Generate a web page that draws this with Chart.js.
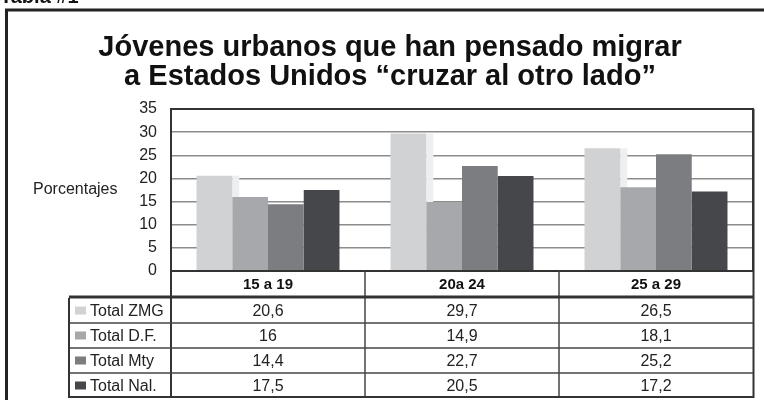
<!DOCTYPE html>
<html>
<head>
<meta charset="utf-8">
<script src="https://cdn.jsdelivr.net/npm/chart.js@4/dist/chart.umd.min.js"></script>
<style>
  html, body { margin: 0; padding: 0; background: #fff; }
  #wrap { width: 764px; height: 400px; }
</style>
</head>
<body>
<div id="wrap"><canvas id="chart" width="764" height="400"></canvas></div>
<script>
// ===== datos =====
const categorias = ['15 a 19', '20a 24', '25 a 29'];
const totalZMG = [20.6, 29.7, 26.5];
const totalDF = [16, 14.9, 18.1];
const totalMty = [14.4, 22.7, 25.2];
const totalNal = [17.5, 20.5, 17.2];
const series = ['Total ZMG', 'Total D.F.', 'Total Mty', 'Total Nal.'];
const colores = ['#d1d2d4', '#a7a8ab', '#7c7d81', '#46474a'];
const tituloLineas = ['Jóvenes urbanos que han pensado migrar', 'a Estados Unidos “cruzar al otro lado”'];

const FONT = '"Liberation Sans", Arial, Helvetica, sans-serif';
const valores = [totalZMG, totalDF, totalMty, totalNal];

function fmt(v) {
  return String(v).replace('.', ',');
}

// ===== plugin: marco, título, sombra y tabla =====
const decoPlugin = {
  id: 'deco',
  beforeDatasetsDraw(chart) {
    // franja clara detrás de la primera serie
    const ctx = chart.ctx;
    const meta = chart.getDatasetMeta(0);
    ctx.save();
    ctx.fillStyle = '#eeeff1';
    meta.data.forEach(bar => {
      const r = bar.x + bar.width / 2;
      ctx.fillRect(r, bar.y, 7, bar.base - bar.y);
    });
    ctx.restore();
  },
  afterDraw(chart) {
    const ctx = chart.ctx;
    const area = chart.chartArea;
    const x = chart.scales.x;
    const catW = (area.right - area.left) / categorias.length;
    const bordes = categorias.map((c, i) => x.getPixelForTick(i) - catW / 2);
    bordes.push(area.right);

    ctx.save();
    // marco exterior
    ctx.strokeStyle = '#222';
    ctx.lineWidth = 3;
    ctx.beginPath();
    ctx.moveTo(6.5, 400);
    ctx.lineTo(6.5, 10);
    ctx.lineTo(764, 10);
    ctx.stroke();

    // "Tabla #1" cortado arriba
    ctx.fillStyle = '#111';
    ctx.font = 'bold 20px ' + FONT;
    ctx.textAlign = 'left';
    ctx.textBaseline = 'alphabetic';
    ctx.fillText('Tabla #1', 0, 3);

    // título
    ctx.font = 'bold 29px ' + FONT;
    ctx.textAlign = 'center';
    ctx.fillText(tituloLineas[0], 390, 56);
    ctx.fillText(tituloLineas[1], 390, 85);

    // etiqueta del eje
    ctx.font = '16px ' + FONT;
    ctx.textAlign = 'left';
    ctx.textBaseline = 'middle';
    ctx.fillStyle = '#222';
    ctx.fillText('Porcentajes', 33, 190);

    // borde del área
    ctx.strokeStyle = '#333';
    ctx.lineWidth = 2;
    ctx.strokeRect(area.left, area.top, area.right - area.left, area.bottom - area.top);

    // fila de categorías
    const filaTop = area.bottom;
    const filaBot = 297;
    ctx.lineWidth = 1.5;
    ctx.strokeStyle = '#444';
    for (let i = 1; i < categorias.length; i++) {
      ctx.beginPath();
      ctx.moveTo(bordes[i], filaTop);
      ctx.lineTo(bordes[i], 398);
      ctx.stroke();
    }
    ctx.lineWidth = 2;
    ctx.strokeStyle = '#333';
    ctx.beginPath();
    ctx.moveTo(area.left, filaTop);
    ctx.lineTo(area.left, 398);
    ctx.moveTo(area.right + 0.5, area.top);
    ctx.lineTo(area.right + 0.5, 398);
    ctx.stroke();

    // tabla de datos
    const tLeft = 69;
    const rowH = 25;
    const tTop = filaBot + 1;
    ctx.lineWidth = 1.5;
    ctx.strokeStyle = '#444';
    for (let r = 1; r < series.length; r++) {
      const y = tTop + r * rowH;
      ctx.beginPath();
      ctx.moveTo(tLeft, y);
      ctx.lineTo(area.right, y);
      ctx.stroke();
    }
    ctx.lineWidth = 2;
    ctx.strokeStyle = '#333';
    ctx.beginPath();
    ctx.moveTo(tLeft, tTop + series.length * rowH - 1);
    ctx.lineTo(area.right, tTop + series.length * rowH - 1);
    ctx.moveTo(tLeft, tTop);
    ctx.lineTo(tLeft, tTop + series.length * rowH);
    ctx.stroke();
    ctx.lineWidth = 3;
    ctx.beginPath();
    ctx.moveTo(tLeft, filaBot);
    ctx.lineTo(area.right, filaBot);
    ctx.stroke();

    ctx.font = '16px ' + FONT;
    ctx.textBaseline = 'middle';
    series.forEach((s, r) => {
      const cy = tTop + r * rowH + rowH / 2;
      ctx.fillStyle = colores[r];
      ctx.fillRect(75, cy - 4, 11, 8);
      ctx.fillStyle = '#222';
      ctx.textAlign = 'left';
      ctx.fillText(s, 90, cy + 1);
      ctx.textAlign = 'center';
      valores[r].forEach((v, i) => {
        ctx.fillText(fmt(v), x.getPixelForTick(i), cy + 1);
      });
    });
    ctx.restore();
  }
};

// ===== gráfico =====
new Chart(document.getElementById('chart'), {
  type: 'bar',
  data: {
    labels: categorias,
    datasets: series.map((s, i) => ({
      label: s,
      data: valores[i],
      backgroundColor: colores[i],
      borderWidth: 0,
      categoryPercentage: 0.737,
      barPercentage: 1.0,
    })),
  },
  options: {
    responsive: false,
    animation: false,
    devicePixelRatio: 1,
    layout: { padding: { top: 109, left: 0, right: 11, bottom: 102 } },
    plugins: {
      legend: { display: false },
      title: { display: false },
      tooltip: { enabled: false },
    },
    scales: {
      x: {
        border: { display: false },
        grid: { display: false, drawTicks: false },
        ticks: { color: '#111', font: { family: FONT, size: 15, weight: 'bold' }, padding: 5 },
        afterFit(scale) { scale.height = 27; },
      },
      y: {
        min: 0,
        max: 35,
        border: { display: false },
        grid: { color: '#8c8c8c', lineWidth: 1.5, drawTicks: false },
        ticks: { stepSize: 5, color: '#222', font: { family: FONT, size: 16 }, padding: 14 },
        afterFit(scale) { scale.width = 171; },
      },
    },
  },
  plugins: [decoPlugin],
});
</script>
</body>
</html>
